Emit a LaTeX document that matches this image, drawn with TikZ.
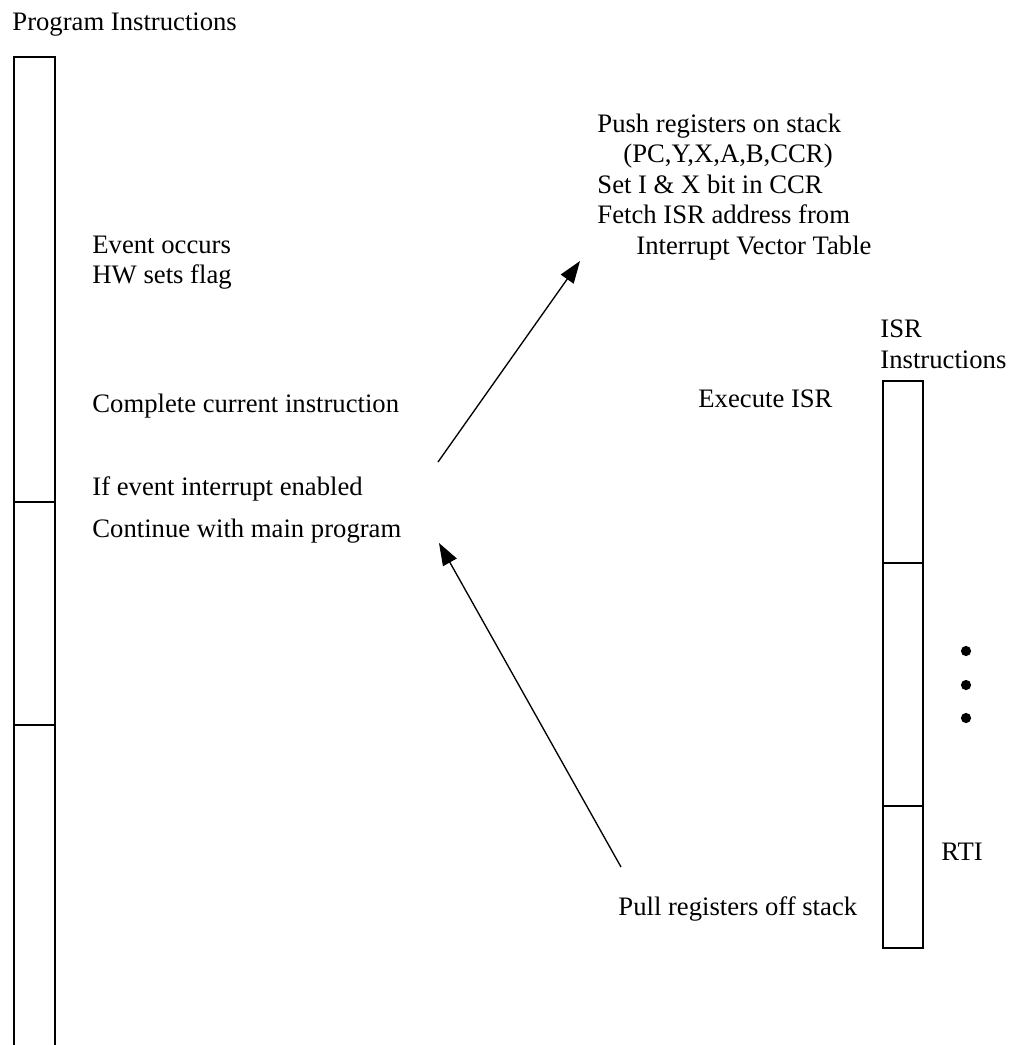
\documentclass[tikz,border=0pt]{standalone}
\usepackage{fontspec}
\setmainfont{Liberation Serif}
\usetikzlibrary{arrows.meta}

\begin{document}
\begin{tikzpicture}[
  x=0.45pt, y=-0.45pt,
  >={Triangle[length=10pt, width=7pt]},
  col/.style={black, line width=0.8pt},
  flow/.style={->, black, line width=0.6pt},
  lbl/.style={anchor=base west, inner sep=0pt, font=\fontsize{12}{14}\selectfont},
]
\useasboundingbox (0,0) rectangle (1010,1045);

% ══════════════════════════════════════════════════════
% Main program column
% ══════════════════════════════════════════════════════
\node[lbl] (progtitle) at (12,30) {Program Instructions};
\draw[col] (14,1045) |- (55,57) -- (55,1045);
\foreach \yy in {502,725}
  \draw[col] (14,\yy) -- (55,\yy);

\node[lbl] (event)    at (92,253) {Event occurs};
\node[lbl] (hwflag)   at (92,283) {HW sets flag};
\node[lbl] (complete) at (92,412) {Complete current instruction};
\node[lbl] (ifenab)   at (92,495) {If event interrupt enabled};
\node[lbl] (contmain) at (92,537) {Continue with main program};

% ══════════════════════════════════════════════════════
% Interrupt entry sequence
% ══════════════════════════════════════════════════════
\node[lbl] (push)   at (597,132) {Push registers on stack};
\node[lbl] (regs)   at (623,162) {(PC,Y,X,A,B,CCR)};
\node[lbl] (setbit) at (597,193) {Set I \& X bit in CCR};
\node[lbl] (fetch)  at (597,223) {Fetch ISR address from};
\node[lbl] (ivt)    at (636,254) {Interrupt Vector Table};

% ══════════════════════════════════════════════════════
% ISR column
% ══════════════════════════════════════════════════════
\node[lbl] (isrtitle) at (880,337) {ISR};
\node[lbl] (isrinstr) at (880,368) {Instructions};
\node[lbl] (execisr)  at (698,407) {Execute ISR};

\draw[col] (883,381) rectangle (923,948);
\foreach \yy in {563,806}
  \draw[col] (883,\yy) -- (923,\yy);

\foreach \yy in {651,685,718}
  \fill (966,\yy) circle (2.3pt);

\node[lbl] (rti)  at (941,860) {RTI};
\node[lbl] (pull) at (618,915) {Pull registers off stack};

% ══════════════════════════════════════════════════════
% Flow arrows
% ══════════════════════════════════════════════════════
\coordinate (entrytail) at (438,462);
\coordinate (entrytip)  at (580,261);
\coordinate (returntail) at (621,867);
\coordinate (returntip)  at (439,543);

\draw[flow] (entrytail) -- (entrytip);
\draw[flow] (returntail) -- (returntip);

\end{tikzpicture}
\end{document}
